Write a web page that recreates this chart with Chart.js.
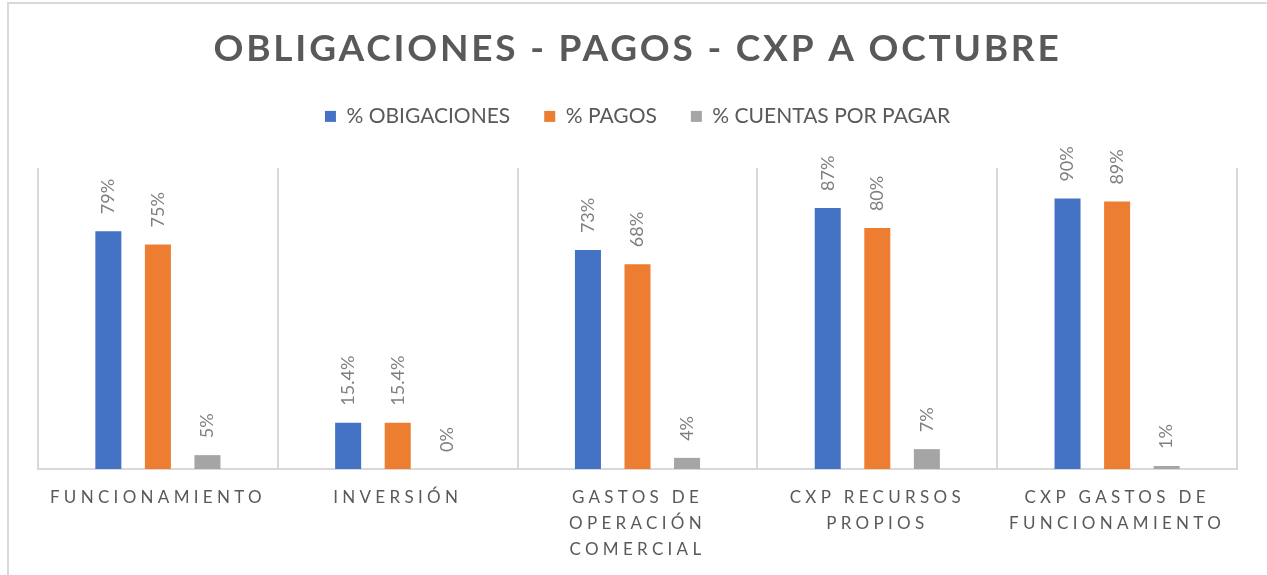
<!DOCTYPE html>
<html>
<head>
<meta charset="utf-8">
<script src="https://cdn.jsdelivr.net/npm/chart.js@4.4.1/dist/chart.umd.min.js"></script>
<style>
  html, body { margin: 0; padding: 0; background: #fff; overflow: hidden; }
  #wrap { position: relative; width: 1267px; height: 575px; overflow: hidden; }
  #frame { position: absolute; left: 7px; top: 2px; width: 1300px; height: 620px; border: 2px solid #d9d9d9; box-sizing: border-box; }
  canvas { position: absolute; left: 0; top: 0; }
</style>
</head>
<body>
<div id="wrap">
  <div id="frame"></div>
  <canvas id="chart" width="1267" height="575"></canvas>
</div>
<script>
// categories, multi-line as in the original axis
const categories = [
  ["FUNCIONAMIENTO"],
  ["INVERSIÓN"],
  ["GASTOS DE", "OPERACIÓN", "COMERCIAL"],
  ["CXP RECURSOS", "PROPIOS"],
  ["CXP GASTOS DE", "FUNCIONAMIENTO"],
];
const seriesNames = ["% OBIGACIONES", "% PAGOS", "% CUENTAS POR PAGAR"];
const obligaciones = [0.79, 0.154, 0.727, 0.867, 0.898];
const pagos = [0.746, 0.154, 0.68, 0.80, 0.888];
const cuentasPorPagar = [0.046, 0, 0.037, 0.066, 0.01];
// decimals shown in the data labels, per category
const labelDecimals = [0, 1, 0, 0, 0];

const textColor = "#595959";
const labelColor = "#7f7f7f";
const gridColor = "#d9d9d9";
const fontFamily = "Lato, 'Open Sans', sans-serif";

const fmtPct = (v, d) => (v === 0 ? "0" : (v * 100).toFixed(d)) + "%";

// wraps a draw method so its text is drawn with letter spacing
const withSpacing = (obj, method, spacing) => {
  if (!obj || obj["_spaced_" + method]) return;
  const orig = obj[method];
  obj[method] = function (...args) {
    const ctx = this.ctx || this.chart.ctx;
    ctx.save();
    ctx.letterSpacing = spacing;
    const r = orig.apply(this, args);
    ctx.restore();
    return r;
  };
  obj["_spaced_" + method] = true;
};

const layoutTweaks = {
  id: "layoutTweaks",
  beforeInit(chart) {
    // legend keeps wide horizontal gaps without the tall box that comes with them
    const legend = chart.legend;
    const fit = legend.fit;
    legend.fit = function () {
      fit.call(this);
      this.height = 96;
    };
    withSpacing(chart.titleBlock, "draw", "2.8px");
  },
  afterLayout(chart) {
    withSpacing(chart.scales.x, "drawLabels", "4.3px");
  },
};

const barLabels = {
  id: "barLabels",
  afterDatasetsDraw(chart) {
    const ctx = chart.ctx;
    ctx.save();
    ctx.font = "18px " + fontFamily;
    ctx.fillStyle = labelColor;
    ctx.textAlign = "left";
    ctx.textBaseline = "middle";
    chart.data.datasets.forEach((ds, i) => {
      chart.getDatasetMeta(i).data.forEach((bar, j) => {
        ctx.save();
        ctx.translate(bar.x, bar.y - 17);
        ctx.rotate(-Math.PI / 2);
        ctx.fillText(fmtPct(ds.data[j], labelDecimals[j]), 0, 0);
        ctx.restore();
      });
    });
    ctx.restore();
  },
};

new Chart(document.getElementById("chart"), {
  type: "bar",
  data: {
    labels: categories,
    datasets: [
      { label: seriesNames[0], data: obligaciones, backgroundColor: "#4472c4" },
      { label: seriesNames[1], data: pagos, backgroundColor: "#ed7d31" },
      { label: seriesNames[2], data: cuentasPorPagar, backgroundColor: "#a5a5a5" },
    ],
  },
  options: {
    responsive: false,
    animation: false,
    events: [],
    categoryPercentage: 0.62,
    barPercentage: 0.525,
    layout: { padding: { left: 38, right: 30, top: 0, bottom: -4 } },
    scales: {
      x: {
        offset: true,
        grid: { offset: true, color: gridColor, lineWidth: 2, drawTicks: false },
        border: { color: gridColor, width: 2 },
        ticks: {
          color: textColor,
          padding: 16,
          autoSkip: false,
          maxRotation: 0,
          font: { family: fontFamily, size: 17, lineHeight: 26 / 17 },
        },
      },
      y: { display: false, min: 0, max: 1 },
    },
    plugins: {
      title: {
        display: true,
        text: "OBLIGACIONES - PAGOS - CXP A OCTUBRE",
        color: textColor,
        font: { family: fontFamily, size: 37, weight: "bold", lineHeight: 1.2 },
        padding: { top: 27, bottom: 0.5 },
      },
      legend: {
        labels: {
          color: textColor,
          boxWidth: 11,
          boxHeight: 11,
          padding: 34,
          font: { family: fontFamily, size: 21 },
        },
      },
      tooltip: { enabled: false },
    },
  },
  plugins: [layoutTweaks, barLabels],
});
</script>
</body>
</html>
